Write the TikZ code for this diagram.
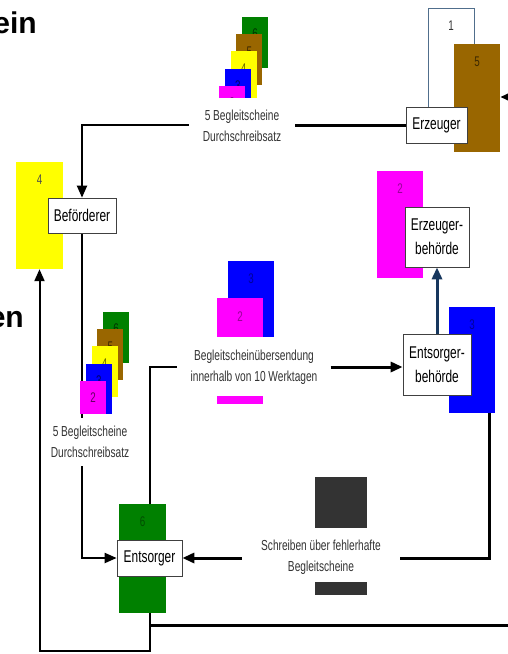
\documentclass[tikz,border=0pt]{standalone}
\usepackage{fontspec}
\setmainfont{Liberation Sans}
\newfontfamily\condfont[FakeStretch=0.7]{Liberation Sans}
\usetikzlibrary{positioning, arrows.meta, backgrounds}

\definecolor{cardyellow}{RGB}{255,255,0}
\definecolor{cardbrown}{RGB}{153,102,0}
\definecolor{cardgreen}{RGB}{0,128,0}
\definecolor{cardblue}{RGB}{0,0,255}
\definecolor{cardmagenta}{RGB}{255,0,255}
\definecolor{darkbox}{RGB}{51,51,51}
\definecolor{navy}{RGB}{23,55,94}
\definecolor{frameblue}{RGB}{80,110,140}

\tikzset{
  actor/.style={draw=black!75, fill=white, line width=0.7pt, align=center, inner xsep=3pt, inner ysep=0pt, font=\condfont\fontsize{17}{24}\selectfont},
  sheet/.style={inner sep=0pt, minimum width=46pt},
  num/.style={anchor=north, inner sep=0pt, yshift=#1, font=\condfont\fontsize{14}{14}\selectfont},
  num/.default=-13pt,
  caption/.style={align=center, inner ysep=0pt, inner xsep=12pt, text=black!80, font=\condfont\fontsize{14.5}{21}\selectfont},
  title/.style={inner sep=0pt, font=\bfseries\fontsize{30}{30}\selectfont},
  link/.style={line width=2pt},
  heavy/.style={line width=3pt},
  tip/.style={-{Triangle[length=12pt,width=10pt]}},
}

\begin{document}
\begin{tikzpicture}[x=1pt, y=-1pt]
\useasboundingbox (0,0) rectangle (508,654);

\node[title, anchor=base east] (head1) at (37,33) {ein};
\node[title, anchor=base east] (head2) at (24,327) {en};

\node[sheet, draw=frameblue, line width=0.6pt, fill=white, minimum height=112pt, label={[num, text=black!80]north:1}] (sheet1) at (451,64) {};
\node[sheet, fill=cardbrown, minimum height=108pt, label={[num, text=cardbrown!40!black]north:5}] (sheet5) at (477,98) {};
\node[actor, minimum width=61pt, minimum height=36pt] (erz) at (436.5,125) {Erzeuger};

\node[sheet, fill=cardyellow, minimum width=47pt, minimum height=107pt, label={[num, text=black!70]north:4}] (sheet4) at (39.5,215.5) {};
\node[actor, minimum width=68pt, minimum height=35pt] (bef) at (82,215.5) {Beförderer};

\node[sheet, fill=cardmagenta, minimum height=107pt, label={[num, text=cardmagenta!60!black]north:2}] (sheet2) at (400,224.5) {};
\node[actor, minimum width=64pt, minimum height=60pt] (erzb) at (437,237) {Erzeuger-\\behörde};

\node[sheet, fill=cardblue, minimum height=106pt, label={[num, text=cardblue!60!black]north:3}] (sheet3) at (472,360) {};
\node[actor, minimum width=68pt, minimum height=61pt] (entsb) at (437,364.5) {Entsorger-\\behörde};

\node[sheet, fill=cardgreen, minimum width=47pt, minimum height=109pt, label={[num, text=cardgreen!60!black]north:6}] (sheet6) at (142.5,558.5) {};
\node[actor, minimum width=65pt, minimum height=36pt] (ents) at (149.5,558) {Entsorger};

\begin{scope}
  \clip (200,0) rectangle (300,97);
  \foreach \col/\n [count=\i from 0] in {cardgreen/6, cardbrown/5, cardyellow/4, cardblue/3, cardmagenta/2}{
    \fill[\col] ({242-5.7*\i},{17+17.2*\i}) rectangle +(26,51);
    \node[num=-12pt, text=\col!40!black] at ({255-5.7*\i},{17+17.2*\i}) {\n};
  }
\end{scope}
\begin{scope}
  \clip (60,300) rectangle (140,413);
  \foreach \col/\n [count=\i from 0] in {cardgreen/6, cardbrown/5, cardyellow/4, cardblue/3, cardmagenta/2}{
    \fill[\col] ({103-5.7*\i},{312+17.2*\i}) rectangle +(26,51);
    \node[num=-12pt, text=\col!40!black] at ({116-5.7*\i},{312+17.2*\i}) {\n};
  }
\end{scope}

\node[sheet, fill=cardblue, minimum height=76pt, label={[num, text=cardblue!60!black]north:3}] (mid3) at (251,299) {};
\node[sheet, fill=cardmagenta, minimum height=39pt, label={[num=-14pt, text=cardmagenta!60!black]north:2}] (mid2) at (240,317.5) {};
\fill[cardmagenta] (217,396) rectangle (263,404);
\fill[darkbox] (315,477) rectangle (367,528);
\fill[darkbox] (315,582) rectangle (367,595);

\node[caption, inner xsep=14pt] (docs1) at (242,126) {5 Begleitscheine\\Durchschreibsatz};
\node[caption, inner xsep=13pt] (uebers) at (254,367) {Begleitscheinübersendung\\innerhalb von 10 Werktagen};
\node[caption, inner ysep=8pt] (docs2) at (90,442) {5 Begleitscheine\\Durchschreibsatz};
\node[caption, inner xsep=19pt] (schreib) at (321,557) {Schreiben über fehlerhafte\\Begleitscheine};

\coordinate (loop) at (39.5,651);
\coordinate (eastout) at (515,625);
\coordinate (eastin) at (515,97);

\begin{scope}[on background layer]
  \fill[white] (0,0) rectangle (508,654);
  \draw[heavy] (erz.west) -- (erz.west -| docs1.east);
  \draw[link, tip] (erz.west -| docs1.west) -| (bef.north);
  \draw[link] (bef.south) -- (bef.south |- docs2.north);
  \draw[link, tip] (bef.south |- docs2.south) |- (ents.west);
  \draw[link] (ents.north) |- (uebers.west);
  \draw[heavy, tip] (uebers.east) -- (uebers.east -| entsb.west);
  \draw[heavy, navy, tip] (entsb.north) -- (erzb.south);
  \draw[heavy] ([xshift=17pt]sheet3.south) |- (schreib.east |- ents.east);
  \draw[heavy, tip] (schreib.west |- ents.east) -- (ents.east);
  \draw[link, tip] (ents.south) |- (loop) -- (sheet4.south);
  \draw[heavy] (ents.south |- eastout) -- (eastout);
  \draw[heavy, tip] (eastin) -- (sheet5.east |- eastin);
\end{scope}
\end{tikzpicture}
\end{document}
